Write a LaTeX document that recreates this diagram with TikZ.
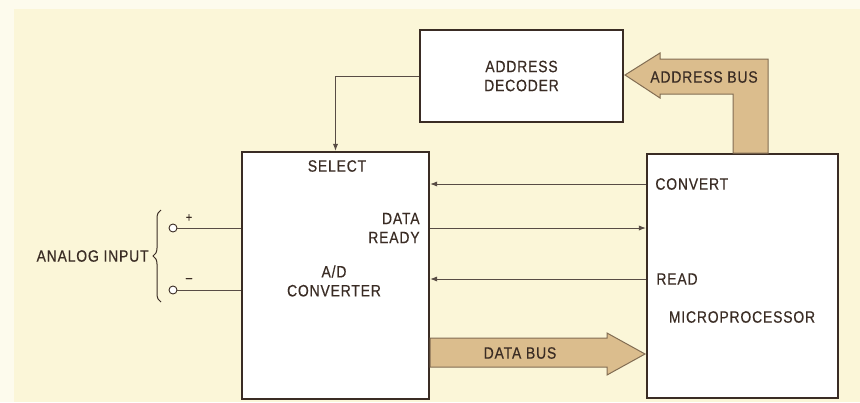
\documentclass[tikz,border=0pt]{standalone}
\usepackage{fontspec}
\setmainfont{Liberation Sans}[FakeStretch=0.85,LetterSpace=5,FakeBold=0.4]
\usetikzlibrary{decorations.pathreplacing,arrows.meta}
\definecolor{cream}{RGB}{251,246,216}
\definecolor{bustan}{RGB}{219,189,141}
\definecolor{ink}{RGB}{58,44,36}
\begin{document}
\begin{tikzpicture}[x=.5pt,y=-.5pt,
 every node/.style={font=\fontsize{8.2}{9.5}\selectfont,text=ink,inner sep=0pt},
 block/.style={draw=ink,fill=white,line width=1.1pt,align=center},
 sig/.style={draw=ink!85,line width=.45pt,-{Latex[length=3.5pt,width=2.6pt]}},
 wire/.style={draw=ink!85,line width=.45pt},
 bus/.style={fill=bustan,draw=ink!55!bustan,line width=.5pt},
 term/.style={circle,draw=ink,fill=white,line width=.45pt,minimum size=4pt}]
% background
\fill[white!55!cream] (0,0) rectangle (860,402);
\fill[cream] (14,9) rectangle (860,402);
\useasboundingbox (0,0) rectangle (860,402);
% blocks
\node[block,minimum width=101.5pt,minimum height=46pt] (dec) at (521.5,76) {ADDRESS\\DECODER};
\node[block,minimum width=93.5pt,minimum height=123.5pt] (adc) at (335.5,275.5) {};
\node[block,minimum width=95.5pt,minimum height=122pt] (mpu) at (742.5,276) {};
% labels inside the blocks
\node (sel) at (337,166) {SELECT};
\node[align=right,anchor=east] (rdy) at (420,228) {DATA\\READY};
\node[align=center] (adtxt) at (334,281) {A/D\\CONVERTER};
\node[anchor=west] (cvt) at (655,184) {CONVERT};
\node[anchor=west] (rd) at (656,279) {READ};
\node (mptxt) at (742,317) {MICROPROCESSOR};
% control lines
\draw[sig] (dec.west) -| (adc.north);
\draw[sig] (mpu.west |- cvt) -- (adc.east |- cvt);
\draw[sig] (adc.east |- rdy) -- (mpu.west |- rdy);
\draw[sig] (mpu.west |- rd) -- (adc.east |- rd);
% buses
\draw[bus] (430,338) -- (607,338) -- (607,333) -- (645,354) -- (607,375)
 -- (607,367) -- (430,367) -- cycle;
\node (dbus) at (520,353) {DATA BUS};
\draw[bus] (768,153) -- (768,59) -- (660,59) -- (660,53) -- (625,75)
 -- (660,98) -- (660,94) -- (733,94) -- (733,153) -- cycle;
\node (abus) at (704,77) {ADDRESS BUS};
% analog input
\node[anchor=east] (ain) at (149,256) {ANALOG INPUT};
\draw[decorate,decoration={brace,amplitude=4pt},ink,line width=.5pt] (161,302) -- (161,210);
\foreach \n/\y/\s in {p/228/+,m/290/–}{
 \node[term] (t\n) at (173,\y) {};
 \draw[wire] (t\n.east) -- (adc.west |- t\n);
 \node[font=\fontsize{6.5}{6.5}\selectfont] (s\n) at (189,\y-10) {\s};}
\end{tikzpicture}
\end{document}
